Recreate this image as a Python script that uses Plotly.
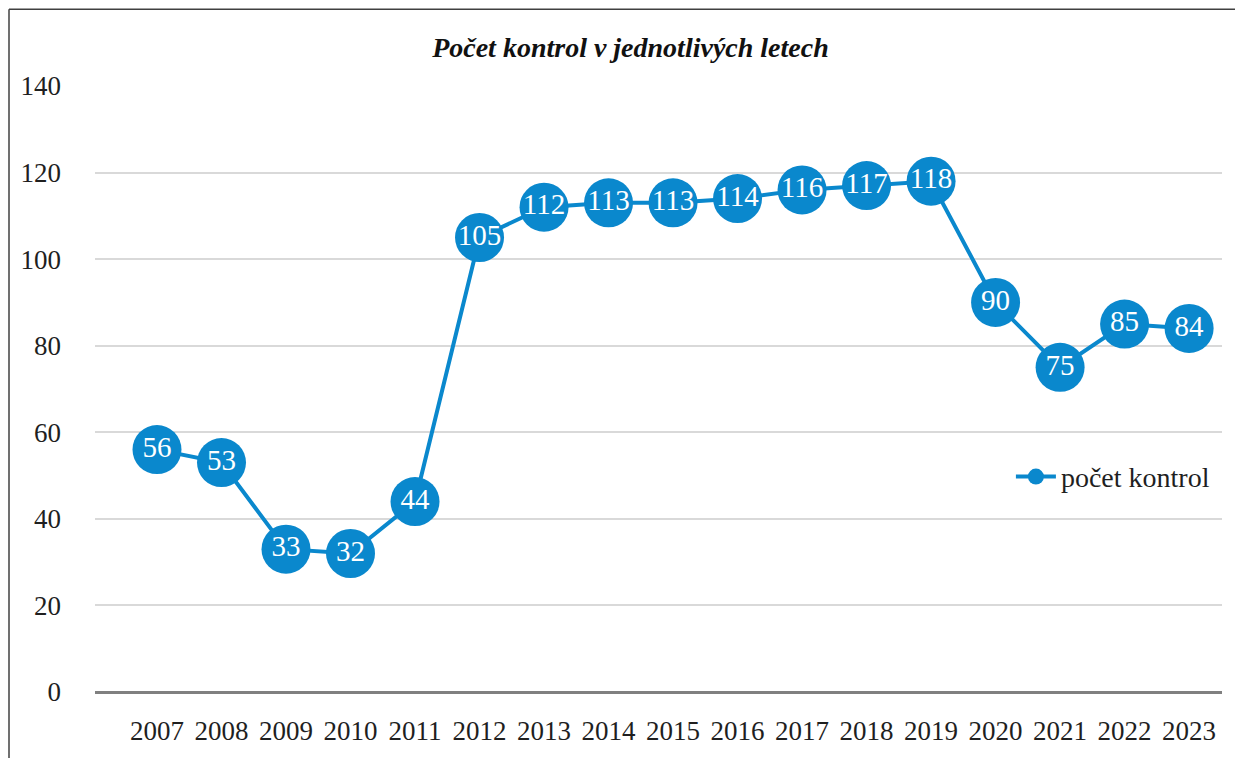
import plotly.graph_objects as go

# data
years = ['2007', '2008', '2009', '2010', '2011', '2012', '2013', '2014', '2015',
         '2016', '2017', '2018', '2019', '2020', '2021', '2022', '2023']
counts = [56, 53, 33, 32, 44, 105, 112, 113, 113, 114, 116, 117, 118, 90, 75, 85, 84]
y_ticks = [0, 20, 40, 60, 80, 100, 120, 140]

title_text = 'Počet kontrol v jednotlivých letech'
series_name = 'počet kontrol'

blue = '#0A88CD'
serif = 'Liberation Serif'
ink = '#1f1f1f'

# the page body has an 8px margin, so the figure is a bit smaller than the window
W, H = 1235, 750

fig = go.Figure()
fig.add_trace(go.Scatter(
    x=years, y=counts, name=series_name,
    mode='lines+markers+text',
    line=dict(color=blue, width=4),
    marker=dict(color=blue, size=49),
    text=[str(v) for v in counts],
    textposition='middle center',
    textfont=dict(family=serif, size=29, color='white'),
))

fig.update_layout(
    width=W, height=H,
    margin=dict(l=87, r=21, t=78, b=64),
    paper_bgcolor='white', plot_bgcolor='white',
    font=dict(family=serif, color=ink, size=27),
    title=dict(text='<b><i>' + title_text + '</i></b>', x=0.504, xref='container',
               y=1 - 39 / H, yanchor='middle', xanchor='center',
               font=dict(family=serif, size=28, color='#111111')),
    showlegend=True,
    legend=dict(x=0.8127, y=0.355, xanchor='left', yanchor='middle',
                font=dict(family=serif, size=28, color=ink),
                bgcolor='rgba(0,0,0,0)', itemwidth=40),
)

fig.update_xaxes(
    type='category', range=[-0.961, 16.51],
    showgrid=False, showline=False, ticks='',
    tickfont=dict(family=serif, size=27, color=ink),
    ticklabelstandoff=20,
)
fig.update_yaxes(
    range=[0, 140], tickvals=y_ticks,
    showgrid=True, gridcolor='#D9D9D9', gridwidth=1.5,
    zeroline=True, zerolinecolor='#808080', zerolinewidth=2.5,
    showline=False, ticks='',
    tickfont=dict(family=serif, size=27, color=ink),
    ticklabelstandoff=33,
)

# frame around the chart (left and top edges visible)
fx = -86 / 1127
fy = 1 + 77 / 608
fig.add_shape(type='line', xref='paper', yref='paper',
              x0=fx, x1=fx, y0=fy, y1=-0.3,
              line=dict(color='#404040', width=1.5))
fig.add_shape(type='line', xref='paper', yref='paper',
              x0=fx, x1=1.2, y0=fy, y1=fy,
              line=dict(color='#404040', width=1.5))

fig.write_html("out.html")
